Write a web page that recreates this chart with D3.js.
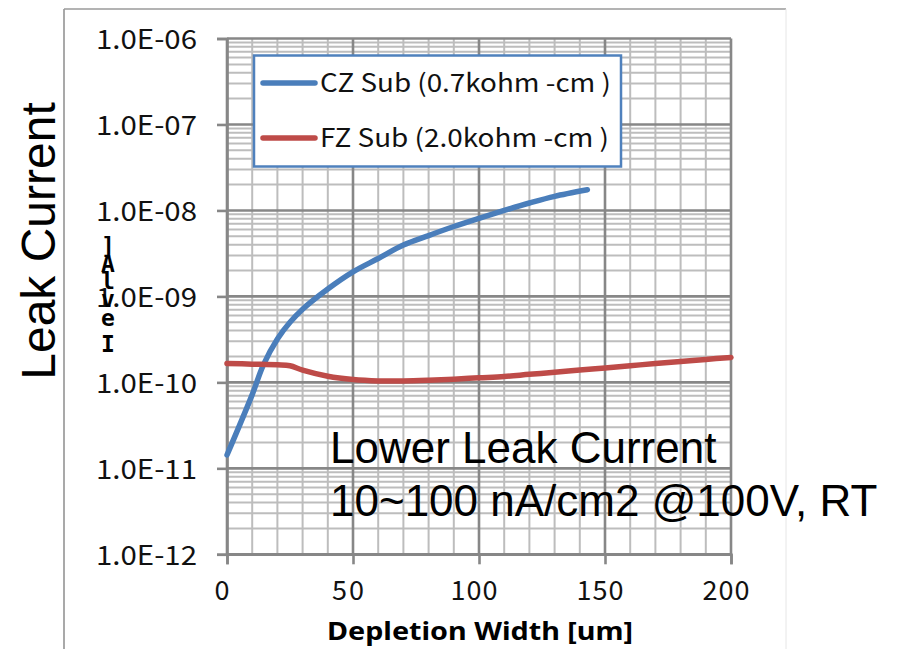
<!DOCTYPE html>
<html>
<head>
<meta charset="utf-8">
<script src="https://cdn.jsdelivr.net/npm/d3@7"></script>
<style>
  html, body { margin: 0; padding: 0; background: #fff; }
  svg { display: block; }
</style>
</head>
<body>
<script>
// Leak current vs. depletion width for two substrate types
const seriesNames = ["CZ Sub (0.7kohm -cm )", "FZ Sub (2.0kohm -cm )"];
const seriesColors = ["#4A7EBB", "#BE4B48"];

const czWidth = [0, 10, 14.4, 20, 25, 30, 40, 50, 60, 70, 80, 90, 100, 110, 120, 130, 143];
const czLeak  = [1.43e-11, 7.2e-11, 1.59e-10, 3.2e-10, 5.0e-10, 7.1e-10, 1.22e-9, 1.93e-9, 2.76e-9,
                 3.95e-9, 5.1e-9, 6.5e-9, 8.1e-9, 1.0e-8, 1.22e-8, 1.46e-8, 1.74e-8];

const fzWidth = [0, 10, 20, 25, 30, 40, 50, 60, 70, 80, 90, 100, 110, 120, 130, 140, 150, 160, 170, 180, 190, 200];
const fzLeak  = [1.66e-10, 1.63e-10, 1.6e-10, 1.56e-10, 1.39e-10, 1.18e-10, 1.08e-10, 1.04e-10, 1.04e-10,
                 1.06e-10, 1.09e-10, 1.13e-10, 1.17e-10, 1.24e-10, 1.31e-10, 1.39e-10, 1.47e-10,
                 1.56e-10, 1.66e-10, 1.75e-10, 1.85e-10, 1.95e-10];

const xTickValues = [0, 50, 100, 150, 200];
const xTickLabels = ["0", "50", "100", "150", "200"];
const yTickValues = [1e-12, 1e-11, 1e-10, 1e-9, 1e-8, 1e-7, 1e-6];
const yTickLabels = ["1.0E-12", "1.0E-11", "1.0E-10", "1.0E-09", "1.0E-08", "1.0E-07", "1.0E-06"];

const xTitle = "Depletion Width [um]";
const yTitle = "Leak Current";
const yUnitChars = ["]", "A", "l", "v", "e", "I"];
const noteLines = ["Lower Leak Current", "10~100 nA/cm2 @100V, RT"];

const W = 897, H = 649;
const plot = { left: 227, right: 731, top: 38.5, bottom: 554.3 };
const tickFont = "'Noto Sans CJK JP', 'Noto Sans', sans-serif";

const svg = d3.select("body").append("svg").attr("width", W).attr("height", H);

// outer chart frame
svg.append("line").attr("x1", 64).attr("x2", 64).attr("y1", 9).attr("y2", H)
  .attr("stroke", "#8C8C8C").attr("stroke-width", 1.5);
svg.append("line").attr("x1", 64).attr("x2", 786).attr("y1", 9).attr("y2", 9)
  .attr("stroke", "#9A9A9A").attr("stroke-width", 1.5);
svg.append("line").attr("x1", 786).attr("x2", 786).attr("y1", 9).attr("y2", H)
  .attr("stroke", "#E6E6E6").attr("stroke-width", 1);

const x = d3.scaleLinear().domain([0, 200]).range([plot.left, plot.right]);
const y = d3.scaleLog().domain([1e-12, 1e-6]).range([plot.bottom, plot.top]);

const minorColor = "#BDBDBD", majorColor = "#878787";

// minor grid
const xMinor = d3.range(10, 200, 10).filter(v => v % 50 !== 0);
const yMinor = [];
for (let e = -12; e < -6; e++) for (let m = 2; m <= 9; m++) yMinor.push(m * Math.pow(10, e));

const grid = svg.append("g");
grid.selectAll(".vx").data(xMinor).join("line")
  .attr("x1", d => x(d)).attr("x2", d => x(d)).attr("y1", plot.top).attr("y2", plot.bottom)
  .attr("stroke", minorColor).attr("stroke-width", 2);
grid.selectAll(".hy").data(yMinor).join("line")
  .attr("x1", plot.left).attr("x2", plot.right).attr("y1", d => y(d)).attr("y2", d => y(d))
  .attr("stroke", minorColor).attr("stroke-width", 2);

// major grid
grid.selectAll(".vX").data(xTickValues).join("line")
  .attr("x1", d => x(d)).attr("x2", d => x(d)).attr("y1", plot.top).attr("y2", plot.bottom)
  .attr("stroke", majorColor).attr("stroke-width", 2.6);
grid.selectAll(".hY").data(yTickValues).join("line")
  .attr("x1", plot.left).attr("x2", plot.right).attr("y1", d => y(d)).attr("y2", d => y(d))
  .attr("stroke", majorColor).attr("stroke-width", 2.6);

// axes
const yAxis = d3.axisLeft(y).tickValues(yTickValues).tickSize(10).tickPadding(20)
  .tickFormat((d, i) => yTickLabels[i]);
const gy = svg.append("g").attr("transform", `translate(${plot.left},0)`).call(yAxis);
gy.select(".domain").attr("stroke", majorColor).attr("stroke-width", 2.6);
gy.selectAll(".tick line").attr("stroke", majorColor).attr("stroke-width", 2.6);
gy.selectAll(".tick text")
  .attr("font-family", tickFont).attr("font-size", 27).attr("fill", "#111")
  .attr("dy", "0.36em").attr("textLength", 101).attr("lengthAdjust", "spacingAndGlyphs");

const xAxis = d3.axisBottom(x).tickValues(xTickValues).tickSize(10).tickPadding(17)
  .tickFormat((d, i) => xTickLabels[i]);
const gx = svg.append("g").attr("transform", `translate(0,${plot.bottom})`).call(xAxis);
gx.select(".domain").attr("stroke", majorColor).attr("stroke-width", 2.6);
gx.selectAll(".tick line").attr("stroke", majorColor).attr("stroke-width", 2.6);
gx.selectAll(".tick text")
  .attr("font-family", tickFont).attr("font-size", 27).attr("fill", "#111")
  .attr("dx", -5.5)
  .each(function (d, i) {
    const n = xTickLabels[i].length;
    if (n > 1) d3.select(this).attr("textLength", n === 2 ? 32 : 47).attr("lengthAdjust", "spacing");
  });

// series
const line = d3.line().x(d => x(d[0])).y(d => y(d[1])).curve(d3.curveCatmullRom.alpha(0.5));
const series = [
  d3.zip(czWidth, czLeak),
  d3.zip(fzWidth, fzLeak)
];
svg.append("g").selectAll("path").data(series).join("path")
  .attr("d", line).attr("fill", "none")
  .attr("stroke", (d, i) => seriesColors[i]).attr("stroke-width", 5.5)
  .attr("stroke-linecap", "round").attr("stroke-linejoin", "round");

// legend
const lg = svg.append("g");
lg.append("rect").attr("x", 254).attr("y", 55.5).attr("width", 367).attr("height", 111)
  .attr("fill", "#fff").attr("stroke", "#4F81BD").attr("stroke-width", 2.5);
const legendY = [83, 138];
seriesNames.forEach((name, i) => {
  lg.append("line").attr("x1", 263).attr("x2", 315).attr("y1", legendY[i]).attr("y2", legendY[i])
    .attr("stroke", seriesColors[i]).attr("stroke-width", 5.5).attr("stroke-linecap", "round");
  lg.append("text").attr("x", 320).attr("y", legendY[i] + 9)
    .attr("font-family", tickFont).attr("font-size", 25).attr("fill", "#111")
    .attr("textLength", i === 0 ? 291 : 289).attr("lengthAdjust", "spacingAndGlyphs")
    .text(name);
});

// axis titles
svg.append("text").attr("transform", "translate(55,241) rotate(-90)")
  .attr("text-anchor", "middle").attr("font-family", "'Liberation Sans', Arial, sans-serif")
  .attr("font-size", 48).attr("fill", "#000").text(yTitle);

// vertically stacked unit characters beside the value labels
const unitY = [254, 272, 289, 307, 326, 352];
svg.append("g").selectAll("text").data(yUnitChars).join("text")
  .attr("x", 108).attr("y", (d, i) => unitY[i]).attr("text-anchor", "middle")
  .attr("font-family", "'DejaVu Sans Mono', monospace").attr("font-weight", "bold")
  .attr("font-size", 23).attr("fill", "#000").text(d => d);

svg.append("text").attr("x", 480).attr("y", 640).attr("text-anchor", "middle")
  .attr("font-family", "'Noto Sans', 'Open Sans', sans-serif").attr("font-weight", "bold")
  .attr("font-size", 25).attr("textLength", 306).attr("lengthAdjust", "spacingAndGlyphs")
  .attr("fill", "#000").text(xTitle);

// annotation
const noteBase = [463, 516];
svg.append("g").selectAll("text").data(noteLines).join("text")
  .attr("x", 330).attr("y", (d, i) => noteBase[i])
  .attr("font-family", "'Liberation Sans', Arial, sans-serif").attr("font-size", 44)
  .attr("fill", "#000").text(d => d);
</script>
</body>
</html>
